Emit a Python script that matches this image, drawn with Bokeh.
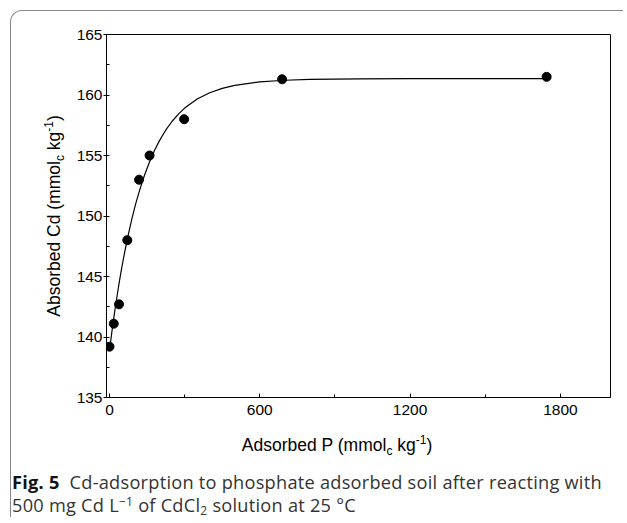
from bokeh.plotting import figure
from bokeh.models import Range1d, SingleIntervalTicker, Div
from bokeh.layouts import column, row
from bokeh.embed import file_html
from bokeh.resources import INLINE

# ---- data ----
p_ads = [0, 17, 38, 71, 118, 160, 298, 689, 1745]
cd_ads = [139.2, 141.1, 142.7, 148.0, 153.0, 155.0, 158.0, 161.3, 161.5]

fit_x = [0, 10, 20, 30, 40, 50, 60, 75, 90, 105, 120, 140, 160, 180, 200,
         225, 250, 275, 300, 350, 400, 450, 500, 600, 700, 800, 1000, 1200,
         1500, 1745]
fit_y = [138.90, 140.50, 141.99, 143.37, 144.66, 145.85, 146.95, 148.47,
         149.82, 151.04, 152.12, 153.39, 154.49, 155.43, 156.25, 157.11,
         157.83, 158.42, 158.92, 159.67, 160.19, 160.55, 160.80, 161.09,
         161.22, 161.29, 161.34, 161.35, 161.35, 161.35]

x_title = ("Adsorbed P (mmol", "c", " kg", "-1", ")")
y_title = ("Absorbed Cd (mmol", "c", " kg", "-1", ")")
caption_bold = "Fig. 5"
caption_line1 = "Cd-adsorption to phosphate adsorbed soil after reacting with"
caption_line2 = ("500 mg Cd L", "\u22121", " of CdCl", "2", " solution at 25 \u00b0C")

FONT = "Liberation Sans"
YW = 55            # width of the left strip holding the y title
PW = 612 - YW      # figure width
PH = 420           # figure height
BH = 86            # bottom strip height

p = figure(width=PW, height=PH, x_range=Range1d(-12, 2000), y_range=Range1d(135, 165),
           output_backend="svg", toolbar_location=None,
           min_border_left=95 - YW, min_border_right=13, min_border_top=23, min_border_bottom=34)
p.title.visible = False
p.xgrid.visible = False
p.ygrid.visible = False
p.background_fill_color = "white"
p.border_fill_color = "white"
p.outline_line_color = "black"
p.outline_line_width = 1

p.xaxis.ticker = SingleIntervalTicker(interval=600, num_minor_ticks=2)
p.yaxis.ticker = SingleIntervalTicker(interval=5, num_minor_ticks=2)
for ax in (p.xaxis[0], p.yaxis[0]):
    ax.axis_label = None
    ax.axis_line_color = "black"
    ax.major_tick_line_color = "black"
    ax.minor_tick_line_color = "black"
    ax.major_label_text_font = FONT
    ax.major_label_text_font_size = "15.5px"
    ax.major_label_text_color = "black"
p.xaxis.major_tick_in = 4
p.xaxis.major_tick_out = 0
p.xaxis.minor_tick_in = 3
p.xaxis.minor_tick_out = 0
p.xaxis.major_label_standoff = 7
p.yaxis.major_tick_in = 0
p.yaxis.major_tick_out = 3
p.yaxis.minor_tick_in = 3
p.yaxis.minor_tick_out = 0
p.yaxis.major_label_standoff = 1

p.line(fit_x, fit_y, line_color="black", line_width=1.2)
p.scatter(p_ads, cd_ads, size=9, marker="circle", fill_color="black", line_color="black")

SUB = '<span style="font-size:12px;vertical-align:-4px;line-height:0">{}</span>'
SUP = '<span style="font-size:12px;vertical-align:7px;line-height:0">{}</span>'


def title_html(parts):
    a, sub, b, sup, c = parts
    return a + SUB.format(sub) + b + SUP.format(sup) + c


ydiv = Div(width=YW, height=PH, margin=0, text=(
    f'<div style="position:relative;width:{YW}px;height:{PH}px">'
    '<div style="position:absolute;left:43px;top:205px;'
    'transform:translate(-50%,-50%) rotate(-90deg);white-space:nowrap;'
    f"font-family:'{FONT}';font-size:17.5px;line-height:20px;color:#000\">"
    + title_html(y_title) + '</div></div>'))

a2, s2, b2, t2, c2 = caption_line2
bdiv = Div(width=612, height=BH, margin=0, text=(
    f'<div style="position:relative;width:612px;height:{BH}px">'
    '<div style="position:absolute;left:326px;top:4px;transform:translateX(-50%);'
    f"white-space:nowrap;font-family:'{FONT}';font-size:17.5px;line-height:20px;color:#000\">"
    + title_html(x_title) + '</div>'
    '<div style="position:absolute;left:1px;top:39.5px;white-space:nowrap;'
    "font-family:'Open Sans';font-size:18.2px;letter-spacing:0.25px;line-height:23px;color:#333\">"
    f'<b style="color:#111">{caption_bold}</b>&nbsp; {caption_line1}<br>'
    f'{a2}<span style="font-size:12px;vertical-align:6px;line-height:0">{s2}</span>{b2}'
    f'<span style="font-size:12px;vertical-align:-3px;line-height:0">{t2}</span>{c2}'
    '</div></div>'))

layout = column(row(ydiv, p), bdiv,
                styles={"border-left": "1.5px solid #888", "border-top": "1.5px solid #888",
                        "border-top-left-radius": "12px", "margin": "10px 0 0 10px"})

open("out.html", "w").write(file_html(layout, INLINE))
